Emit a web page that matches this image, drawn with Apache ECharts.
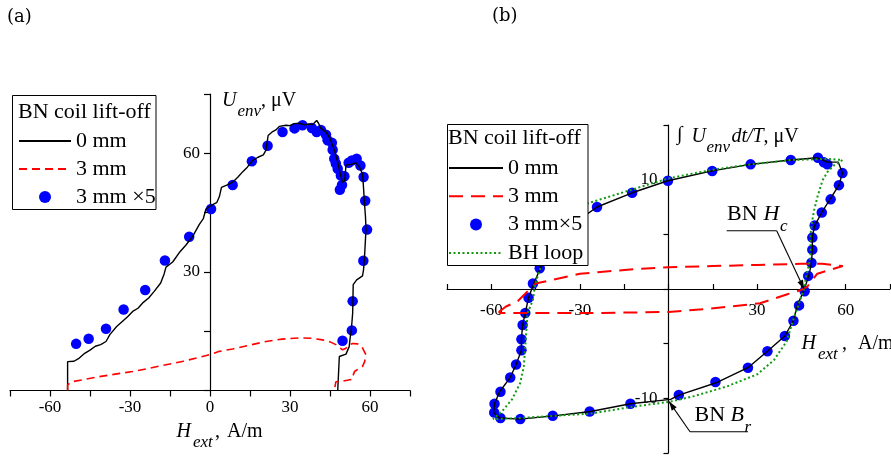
<!DOCTYPE html>
<html><head><meta charset="utf-8">
<script src="https://cdn.jsdelivr.net/npm/echarts@6/dist/echarts.min.js"></script>
<style>html,body{margin:0;padding:0;background:#fff}#c{width:891px;height:456px}</style>
</head><body><div id="c"></div>
<script>
const FONT = '"Liberation Serif", "Times New Roman", serif';

// ---------- (a) U_env vs H_ext ----------
const aLabels = { a0: '0 mm', a3: '3 mm', a35: '3 mm \u00d75' };
const aLine0 = [[-53.4,0],[-53.4,7.3],[-51,7.4],[-49,8.2],[-47,9.4],[-45,10.2],[-43,11.2],[-41,11.6],[-39,12.4],[-37.5,14.2],[-35,16.2],[-33,17.4],[-31,18.6],[-29,20],[-27,20.8],[-25,22.3],[-23,23.4],[-21,25],[-18.5,27.2],[-17.2,29.5],[-16.5,31.2],[-14,32.5],[-11.5,34.9],[-9,36.8],[-6.5,39],[-4,42],[-2.5,43.5],[-1.5,45.9],[0.4,46.8],[2.5,47.5],[3.5,49],[4.3,51.4],[6.5,52],[8.5,52.7],[10.5,54],[12.2,55.3],[14,56.5],[16,58.2],[18,59],[20,59.6],[21,60.8],[21.8,64.5],[23.5,65.5],[24.7,65.9],[26,66.8],[28.5,67.1],[30,67],[31.5,67.5],[33.5,67.6],[35.5,67.2],[37,67.4],[38.5,67.3],[40,68.3],[40.7,67.6],[41.6,66.3],[43.5,65.4],[45,63.8],[46,62],[47,60],[48,57.5],[48.8,55],[49.7,52.7],[50.5,53],[51,57],[53,57.2],[54.7,57.6],[56,56.5],[57.2,54.8],[57.6,51],[57.9,47.6],[58.3,44],[58.5,40.8],[58.2,37],[57.9,33.2],[57.6,30.7],[57.2,29],[55,28],[53.7,26.8],[53.6,23],[53.5,19.6],[53.2,17],[52.9,15],[52.5,13],[52.2,11.1],[51,9.2],[48.5,8.6],[47.9,0]];
const aLine3 = [[-53.4,0],[-53.4,1.4],[-52,2.2],[-47,2.8],[-41.5,3.5],[-35,4.2],[-29,4.8],[-23,5.6],[-16.5,6.5],[-10,7.4],[-4,8.4],[0,9.1],[3.5,9.9],[8.5,10.5],[15,11.5],[21,12.4],[27,13],[33.5,13.3],[38,13.2],[42.2,12.8],[45,12.3],[47.2,11.6],[49.7,10.3],[51,10.7],[52.2,11.6],[53.5,11.9],[55.3,11.8],[57,11],[58.5,9],[58,7.3],[57.2,6.1],[55.5,5.4],[54.2,4.8],[53.5,3.5],[53.3,2.8],[50,2.4],[47.2,2.2],[46.6,0]];
const aDots35 = [[-50.2,11.8],[-45.5,13.1],[-39,15.6],[-32.4,20.5],[-24.3,25.4],[-16.9,32.9],[-7.8,38.9],[0.4,45.9],[8.5,52],[15.7,58],[21.6,61.9],[27.2,65.4],[31.7,66.3],[34.7,67.1],[38.2,66.4],[40,65.4],[41.6,65.9],[43.5,64.7],[44.1,63.3],[45.7,62.7],[46,60.9],[46.6,58.6],[47.2,57.4],[47.9,56.1],[49.1,54.4],[50.4,54.2],[49.5,52],[48.7,50.8],[52,57.6],[53.2,58.2],[55,58.6],[56.4,56.9],[57.6,54],[58.2,48],[58.9,40.7],[57.5,32.8],[53.5,22.6],[53.2,15.2],[49.7,12.6]];
const aXRange = [-75, 75];
const aYRange = [0, 75];
const aXTicks = [-60, -30, 0, 30, 60];
const aYTicks = [30, 60];

// ---------- (b) integral vs H_ext ----------
const bLabels = { b0: '0 mm', b3: '3 mm', b35: '3 mm\u00d75', bbh: 'BH loop' };
const bLine0 = [[-43.4,1.9],[-45.6,0.5],[-47.4,-0.8],[-48.5,-2.2],[-49.4,-3.3],[-49.8,-4.6],[-49.8,-5.6],[-51.6,-6.9],[-53.6,-8.1],[-57.2,-9.4],[-58.9,-10.5],[-59.2,-11.3],[-57.2,-11.8],[-50.2,-11.9],[-38.9,-11.6],[-26.4,-11.2],[-12.9,-10.5],[0.7,-10.1],[3.5,-9.7],[15.9,-8.6],[26.9,-7.2],[33.5,-5.7],[39.4,-4.3],[42.3,-2.9],[43.6,-1.5],[45.9,-0.1],[47.6,1.3],[48.4,2.4],[48.7,3.6],[48.7,4.8],[49.5,5.8],[51.9,7],[54.9,8.3],[57.7,9.5],[58.9,10.6],[57.5,11.6],[53.8,11.6],[50.4,12],[41.4,11.8],[27.8,11.4],[14.8,10.8],[-0.2,9.9],[-12.3,8.8],[-24.2,7.5],[-33.5,5.7],[-39.4,4.3],[-42.3,2.9],[-43.4,1.9]];
const bLine3 = [[-57.5,-2.1],[-55,-1.6],[-51,-1.1],[-48,-0.3],[-45,0.5],[-40,0.8],[-30,1.4],[-12,1.8],[0,2.0],[15,2.1],[30,2.2],[45,2.3],[52,2.3],[59,2.1],[50.4,1.4],[48,0.6],[47,0.2],[44.7,-0.1],[40,-0.5],[31,-1.3],[14,-1.8],[0,-2.1],[-26,-2.2],[-57,-2.2],[-57.5,-2.1]];
const bDots35 = [[-0.2,9.9],[14.8,10.8],[27.8,11.4],[41.4,11.8],[50.6,12],[52.6,11.6],[53.8,11.4],[58.9,10.6],[57.7,9.5],[54.9,8.2],[51.9,7],[49.5,5.8],[48.7,4.7],[48.7,3.6],[48.4,2.4],[47.3,1.2],[46.1,-0.2],[44.2,-1.5],[42.3,-2.9],[39.4,-4.3],[33.5,-5.7],[26.9,-7.2],[15.9,-8.5],[3.5,-9.7],[-12.9,-10.5],[-26.7,-11.2],[-39.2,-11.6],[-50.2,-11.9],[-56.9,-11.8],[-59,-11.3],[-58.9,-10.5],[-56.9,-9.4],[-53.6,-8.1],[-51.6,-6.9],[-49.8,-5.6],[-49.8,-4.6],[-49.4,-3.3],[-48.5,-2.2],[-47.4,-0.8],[-45.9,0.5],[-43.6,1.9],[-12.3,8.8],[-24.2,7.5]];
const bLineBH = [[58.9,11.8],[56,11.3],[53.8,10.7],[52.1,9.9],[50.4,8.4],[49.3,7.2],[48.7,6.3],[48.1,5.1],[48.1,2.9],[46.5,1],[45.9,0],[44.2,-1.3],[41.9,-3.1],[40,-4.8],[35.7,-6.5],[30.1,-7.8],[19.9,-8.9],[8.6,-9.8],[0.7,-10.3],[-12.9,-10.8],[-26.4,-11.4],[-38.9,-11.6],[-50.2,-11.8],[-59.4,-11.9],[-56.4,-11.2],[-53,-10.1],[-50.2,-8.6],[-49,-7.1],[-48.5,-5.2],[-47.7,-2.2],[-45.9,-1],[-45.1,0.5],[-44,1.4],[-41.9,3.1],[-40,4.8],[-35.7,6.5],[-30.1,7.6],[-24.2,8.1],[-12.3,9.1],[-0.3,10.1],[14.8,10.9],[27.8,11.4],[41.4,11.8],[53.8,11.9],[58.9,11.8]];
const bXRange = [-75, 75];
const bYRange = [-15, 15];
const bXTicks = [-60, -30, 30, 60];
const bYTicks = [-10, 10];
const bHcPoint = [45.9, 0.0];
const bBrPoint = [0.2, -10.3];

const chart = echarts.init(document.getElementById('c'), null, { renderer: 'canvas' });

const gridA = { left: 10, top: 94, width: 400, height: 296.5 };
const gridB = { left: 447, top: 125, width: 443, height: 328 };

function axisCommon(ticks, margin, inside, tickLen) {
  return {
    type: 'value',
    splitLine: { show: false },
    axisLine: { onZero: false, lineStyle: { color: '#000', width: 1.2 } },
    axisTick: { inside: inside, length: tickLen, lineStyle: { color: '#000', width: 1.2 } },
    axisLabel: {
      margin: margin, color: '#000', fontFamily: FONT, fontSize: 17,
      formatter: v => (ticks.indexOf(v) >= 0 ? String(v) : '')
    }
  };
}
// offset that places an axis at the zero of the crossing axis
function zeroOffset(range, size) { return -size * (0 - range[0]) / (range[1] - range[0]); }

const legendText = { fontFamily: FONT, fontSize: 22, color: '#000', lineHeight: 22 };
const hideSym = { opacity: 0 };
const clear = 'rgba(0,0,0,0)';

chart.setOption({
  animation: false,
  backgroundColor: '#fff',
  grid: [
    Object.assign({ containLabel: false, outerBoundsMode: 'none' }, gridA),
    Object.assign({ containLabel: false, outerBoundsMode: 'none' }, gridB)
  ],
  xAxis: [
    Object.assign(axisCommon(aXTicks, 9, false, 6), { gridIndex: 0, position: 'bottom', min: aXRange[0], max: aXRange[1], interval: 15,
      offset: zeroOffset(aYRange, gridA.height) }),
    Object.assign(axisCommon(bXTicks, 13, true, 5), { gridIndex: 1, position: 'bottom', min: bXRange[0], max: bXRange[1], interval: 15,
      offset: zeroOffset(bYRange, gridB.height) })
  ],
  yAxis: [
    Object.assign(axisCommon(aYTicks, 10, false, 6), { gridIndex: 0, position: 'left', min: aYRange[0], max: aYRange[1], interval: 15,
      offset: zeroOffset(aXRange, gridA.width) }),
    Object.assign(axisCommon(bYTicks, 11, false, 5), { gridIndex: 1, position: 'left', min: bYRange[0], max: bYRange[1], interval: 5,
      offset: zeroOffset(bXRange, gridB.width) })
  ],
  legend: [
    { orient: 'vertical', left: 18, top: 130, padding: 0, itemWidth: 52, itemHeight: 12, itemGap: 6,
      selectedMode: false, z: 10, textStyle: legendText,
      data: [{ name: 'a0', itemStyle: hideSym }, { name: 'a3', itemStyle: hideSym }, { name: 'a35' }],
      formatter: n => aLabels[n] },
    { orient: 'vertical', left: 448, top: 157, padding: 0, itemWidth: 54, itemHeight: 12, itemGap: 6.3,
      selectedMode: false, z: 10, textStyle: legendText,
      data: [{ name: 'b0', itemStyle: hideSym }, { name: 'b3', itemStyle: hideSym }, { name: 'b35' }, { name: 'bbh', itemStyle: hideSym }],
      formatter: n => bLabels[n] }
  ],
  series: [
    { name: 'a0', type: 'line', xAxisIndex: 0, yAxisIndex: 0, data: aLine0, symbol: 'none',
      lineStyle: { color: '#000', width: 1.4 }, itemStyle: { color: clear } },
    { name: 'a3', type: 'line', xAxisIndex: 0, yAxisIndex: 0, data: aLine3, symbol: 'none',
      lineStyle: { color: '#ff0000', width: 1.6, type: [8, 5] }, itemStyle: { color: clear } },
    { name: 'a35', type: 'scatter', xAxisIndex: 0, yAxisIndex: 0, data: aDots35, symbol: 'circle', symbolSize: 10.5,
      itemStyle: { color: '#0000ff', opacity: 1 } },
    { name: 'b0', type: 'line', xAxisIndex: 1, yAxisIndex: 1, data: bLine0, symbol: 'none',
      lineStyle: { color: '#000', width: 1.4 }, itemStyle: { color: clear } },
    { name: 'b3', type: 'line', xAxisIndex: 1, yAxisIndex: 1, data: bLine3, symbol: 'none',
      lineStyle: { color: '#ff0000', width: 2, type: [14, 8] }, itemStyle: { color: clear } },
    { name: 'b35', type: 'scatter', xAxisIndex: 1, yAxisIndex: 1, data: bDots35, symbol: 'circle', symbolSize: 10.5,
      itemStyle: { color: '#0000ff', opacity: 1 } },
    { name: 'bbh', type: 'line', xAxisIndex: 1, yAxisIndex: 1, data: bLineBH, symbol: 'none',
      lineStyle: { color: '#119911', width: 2, type: [2, 2.5] }, itemStyle: { color: clear } }
  ]
});

function txt(x, y, text, size, italic, family) {
  return { type: 'text', x: x, y: y, z: 20, silent: true,
    style: { text: text, fontFamily: family || FONT, fontSize: size, fontStyle: italic ? 'italic' : 'normal',
      fill: '#000', align: 'left', verticalAlign: 'middle' } };
}
function seg(x1, y1, x2, y2) {
  return { type: 'line', z: 20, silent: true, shape: { x1: x1, y1: y1, x2: x2, y2: y2 },
    style: { stroke: '#000', lineWidth: 1.1 } };
}
function arrowHead(fromX, fromY, tipX, tipY) {
  const dx = tipX - fromX, dy = tipY - fromY, L = Math.hypot(dx, dy);
  const ux = dx / L, uy = dy / L, len = 9, w = 3;
  const bx = tipX - ux * len, by = tipY - uy * len;
  return { type: 'polygon', z: 21, silent: true,
    shape: { points: [[tipX, tipY], [bx - uy * w, by + ux * w], [bx + uy * w, by - ux * w]] },
    style: { fill: '#000' } };
}

const hc = chart.convertToPixel({ gridIndex: 1 }, bHcPoint);
const br = chart.convertToPixel({ gridIndex: 1 }, bBrPoint);
const CM = '"DejaVu Serif", serif';

const graphics = [
  { type: 'rect', z: 8, silent: true, shape: { x: 12.5, y: 95.5, width: 143.5, height: 114 },
    style: { fill: '#fff', stroke: '#000', lineWidth: 1 } },
  { type: 'rect', z: 8, silent: true, shape: { x: 447.5, y: 124.5, width: 140.5, height: 141 },
    style: { fill: '#fff', stroke: '#000', lineWidth: 1 } },
  txt(18, 112, 'BN coil lift-off', 22, false),
  txt(448, 138, 'BN coil lift-off', 22, false),
  txt(7, 17, '(a)', 18, false, CM),
  txt(492, 16, '(b)', 18, false, CM),
  // left axis names
  txt(222, 100.5, 'U', 20, true),
  txt(237.5, 111.5, 'env', 17, true),
  txt(261, 100.5, ', \u03bcV', 20, false),
  txt(176.5, 432, 'H', 20, true),
  txt(193, 443, 'ext', 17, true),
  txt(215, 432, ',', 20, false),
  txt(227, 432, 'A/m', 20, false),
  // right axis names
  txt(677, 135, '\u222b', 20, false),
  txt(691.5, 137, 'U', 20, true),
  txt(706.5, 147.5, 'env', 17, true),
  txt(731.5, 137, 'dt/T', 20, true),
  txt(763.5, 137, ', \u03bcV', 20, false),
  txt(801.5, 343.5, 'H', 20, true),
  txt(818, 354.5, 'ext', 17, true),
  txt(842, 343.5, ',', 20, false),
  txt(858, 343.5, 'A/m', 20, false),
  // annotations
  txt(727, 214, 'BN', 22, false),
  txt(763.5, 214, 'H', 22, true),
  txt(780, 227, 'c', 17, true),
  seg(726.7, 230.7, 776.7, 230.7),
  seg(776.7, 230.7, hc[0], hc[1]),
  arrowHead(776.7, 230.7, hc[0], hc[1]),
  txt(694.5, 415.5, 'BN', 22, false),
  txt(730.5, 415.5, 'B', 22, true),
  txt(744.5, 428, 'r', 17, true),
  seg(690, 431.7, 748, 431.7),
  seg(690, 431.7, br[0], br[1]),
  arrowHead(690, 431.7, br[0], br[1])
];
chart.setOption({ graphic: graphics });
</script>
</body></html>
